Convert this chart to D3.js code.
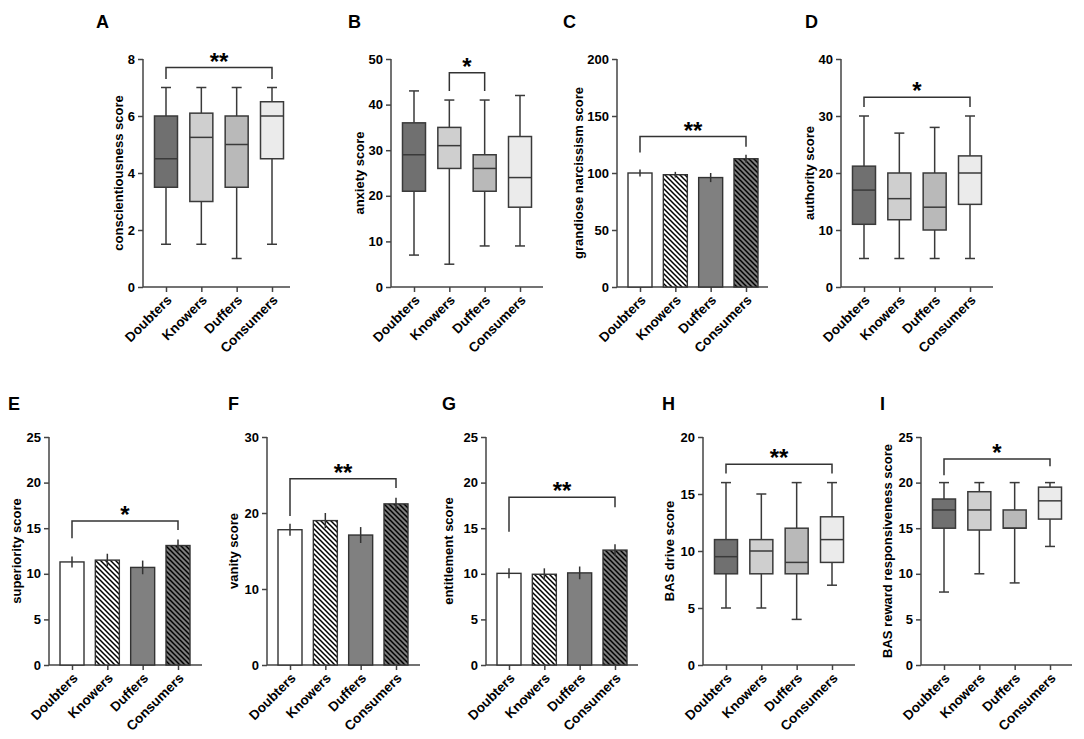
<!DOCTYPE html>
<html>
<head>
<meta charset="utf-8">
<script src="https://cdn.jsdelivr.net/npm/d3@7"></script>
<style>
  body { margin: 0; background: #fff; }
  text { font-family: "Liberation Sans", Arial, sans-serif; }
</style>
</head>
<body>
<svg id="chart" width="1084" height="739"></svg>
<script>
// groups on every x axis
const groups = ["Doubters", "Knowers", "Duffers", "Consumers"];

// box plots: [min, q1, median, q3, max] per group
const conscientiousness = [[1.5, 3.5, 4.5, 6, 7], [1.5, 3, 5.25, 6.1, 7], [1, 3.5, 5, 6, 7], [1.5, 4.5, 6, 6.5, 7]];
const anxiety = [[7, 21, 29, 36, 43], [5, 26, 31, 35, 41], [9, 21, 26, 29, 41], [9, 17.5, 24, 33, 42]];
const authority = [[5, 11, 17, 21.2, 30], [5, 11.8, 15.5, 20, 27], [5, 10, 14, 20, 28], [5, 14.5, 20, 23, 30]];
const basDrive = [[5, 8, 9.5, 11, 16], [5, 8, 10, 11, 15], [4, 8, 9, 12, 16], [7, 9, 11, 13, 16]];
const basReward = [[8, 15, 17, 18.2, 20], [10, 14.8, 17, 19, 20], [9, 15, 15, 17, 20], [13, 16, 18, 19.5, 20]];

// bar charts: mean and sem per group
const narcissismMean = [100, 98.5, 96, 112.5];
const narcissismSem = [3, 2.5, 4, 3.5];
const superiorityMean = [11.3, 11.5, 10.7, 13.1];
const superioritySem = [0.6, 0.7, 0.75, 0.65];
const vanityMean = [17.8, 19, 17.1, 21.2];
const vanitySem = [0.8, 1, 1.05, 0.8];
const entitlementMean = [10.05, 9.95, 10.1, 12.6];
const entitlementSem = [0.55, 0.65, 0.7, 0.65];

// y ticks
const ticksA = [0, 2, 4, 6, 8];
const ticksB = [0, 10, 20, 30, 40, 50];
const ticksC = [0, 50, 100, 150, 200];
const ticksD = [0, 10, 20, 30, 40];
const ticks25 = [0, 5, 10, 15, 20, 25];
const ticksF = [0, 10, 20, 30];
const ticksH = [0, 5, 10, 15, 20];

// significance brackets: [from, to, label, level, left drop, right drop]
const sigA = ["Doubters", "Consumers", "**", 7.7, 7.3, 7.3];
const sigB = ["Knowers", "Duffers", "*", 47, 43, 43];
const sigC = ["Doubters", "Consumers", "**", 132, 118, 123];
const sigD = ["Doubters", "Consumers", "*", 33.3, 31.6, 31.6];
const sigE = ["Doubters", "Consumers", "*", 15.8, 13.9, 14.8];
const sigF = ["Doubters", "Consumers", "**", 24.5, 19.6, 23.3];
const sigG = ["Doubters", "Consumers", "**", 18.4, 14.6, 17.3];
const sigH = ["Doubters", "Consumers", "**", 17.6, 16.8, 16.8];
const sigI = ["Doubters", "Consumers", "*", 22.6, 20.8, 21.8];

const boxFill = ["#707070", "#cfcfcf", "#b9b9b9", "#ebebeb"];
const barFill = ["#ffffff", "url(#hatchWhite)", "#808080", "url(#hatchGray)"];
const axisColor = "#444";

const svg = d3.select("#chart");

// hatch patterns
const defs = svg.append("defs");
function addHatch(id, bg) {
  const p = defs.append("pattern")
    .attr("id", id)
    .attr("patternUnits", "userSpaceOnUse")
    .attr("width", 5)
    .attr("height", 5);
  p.append("rect").attr("width", 5).attr("height", 5).attr("fill", bg);
  p.append("path")
    .attr("d", "M-1,-1L6,6M-1,4L1,6M4,-1L6,1")
    .attr("stroke", "#000")
    .attr("stroke-width", 1.5);
}
addHatch("hatchWhite", "#ffffff");
addHatch("hatchGray", "#7c7c7c");

function drawFrame(p) {
  const g = svg.append("g");
  const y = d3.scaleLinear().domain([0, p.max]).range([p.y0, p.y1]);
  const x = d3.scalePoint().domain(groups).range([p.x0 + 23, p.x0 + 23 + 106]);

  // panel letter
  g.append("text")
    .attr("x", p.lx).attr("y", p.ly)
    .style("font-size", "18px").style("font-weight", "bold")
    .text(p.letter);

  // y axis
  const yAxis = g.append("g")
    .attr("transform", `translate(${p.x0},0)`)
    .call(d3.axisLeft(y).tickValues(p.ticks).tickSize(5).tickPadding(3).tickFormat(d3.format("d")));
  yAxis.select(".domain").attr("stroke", axisColor).attr("stroke-width", 1.5).attr("d", `M0,${p.y0}V${p.y1}`);
  yAxis.selectAll(".tick line").attr("stroke", axisColor).attr("stroke-width", 1.5);
  yAxis.selectAll(".tick text")
    .attr("fill", "#000")
    .style("font-size", "13px").style("font-weight", "bold")
    .style("font-family", "Liberation Sans, Arial, sans-serif");

  // x axis
  const xAxis = g.append("g")
    .attr("transform", `translate(0,${p.y0})`)
    .call(d3.axisBottom(x).tickSize(5).tickSizeOuter(0));
  xAxis.select(".domain").attr("stroke", axisColor).attr("stroke-width", 1.5).attr("d", `M${p.x0},0H${p.x1}`);
  xAxis.selectAll(".tick line").attr("stroke", axisColor).attr("stroke-width", 1.5);
  xAxis.selectAll(".tick text")
    .attr("fill", "#000")
    .attr("text-anchor", "end")
    .attr("dy", null)
    .attr("y", 0)
    .attr("transform", "translate(6,14) rotate(-45)")
    .style("font-size", "13.5px").style("font-weight", "bold")
    .style("font-family", "Liberation Sans, Arial, sans-serif");

  // y axis title
  g.append("text")
    .attr("transform", `translate(${p.x0 - p.tOff + 4.5},${(p.y0 + p.y1) / 2}) rotate(-90)`)
    .attr("text-anchor", "middle")
    .style("font-size", "13px").style("font-weight", "bold")
    .text(p.title);

  // significance bracket
  const s = p.sig;
  const path = d3.path();
  path.moveTo(x(s[0]), y(s[4]));
  path.lineTo(x(s[0]), y(s[3]));
  path.lineTo(x(s[1]), y(s[3]));
  path.lineTo(x(s[1]), y(s[5]));
  g.append("path").attr("d", path.toString())
    .attr("fill", "none").attr("stroke", "#333").attr("stroke-width", 1.5);
  g.append("text")
    .attr("x", (x(s[0]) + x(s[1])) / 2).attr("y", y(s[3]) + 2)
    .attr("text-anchor", "middle")
    .style("font-size", "24px").style("font-weight", "bold")
    .text(s[2]);

  return { g, x, y };
}

function boxPanel(p) {
  const { g, x, y } = drawFrame(p);
  const w = 23, cap = 10;
  p.data.forEach((d, i) => {
    const cx = x(groups[i]);
    const bg = g.append("g").attr("stroke", "#3a3a3a").attr("stroke-width", 1.5);
    bg.append("line").attr("x1", cx).attr("x2", cx).attr("y1", y(d[0])).attr("y2", y(d[1]));
    bg.append("line").attr("x1", cx).attr("x2", cx).attr("y1", y(d[3])).attr("y2", y(d[4]));
    bg.append("line").attr("x1", cx - cap / 2).attr("x2", cx + cap / 2).attr("y1", y(d[0])).attr("y2", y(d[0]));
    bg.append("line").attr("x1", cx - cap / 2).attr("x2", cx + cap / 2).attr("y1", y(d[4])).attr("y2", y(d[4]));
    bg.append("rect")
      .attr("x", cx - w / 2).attr("width", w)
      .attr("y", y(d[3])).attr("height", y(d[1]) - y(d[3]))
      .attr("fill", boxFill[i]);
    bg.append("line").attr("x1", cx - w / 2).attr("x2", cx + w / 2).attr("y1", y(d[2])).attr("y2", y(d[2]));
  });
}

function barPanel(p) {
  const { g, x, y } = drawFrame(p);
  const w = 24;
  p.mean.forEach((m, i) => {
    const cx = x(groups[i]);
    g.append("rect")
      .attr("x", cx - w / 2).attr("width", w)
      .attr("y", y(m)).attr("height", y(0) - y(m))
      .attr("fill", barFill[i]).attr("stroke", "#333").attr("stroke-width", 1.4);
    g.append("line")
      .attr("x1", cx).attr("x2", cx)
      .attr("y1", y(m - p.sem[i])).attr("y2", y(m + p.sem[i]))
      .attr("stroke", "#333").attr("stroke-width", 1.5);
  });
}

const topRow = { y0: 287, y1: 59, ly: 28 };
const botRow = { y0: 665, y1: 437, ly: 410 };

boxPanel({ ...topRow, letter: "A", lx: 96, x0: 143, x1: 290, tOff: 25, max: 8, ticks: ticksA,
  title: "conscientiousness score", data: conscientiousness, sig: sigA });
boxPanel({ ...topRow, letter: "B", lx: 348, x0: 391, x1: 543, tOff: 32, max: 50, ticks: ticksB,
  title: "anxiety score", data: anxiety, sig: sigB });
barPanel({ ...topRow, letter: "C", lx: 563, x0: 617, x1: 768, tOff: 39, max: 200, ticks: ticksC,
  title: "grandiose narcissism score", mean: narcissismMean, sem: narcissismSem, sig: sigC });
boxPanel({ ...topRow, letter: "D", lx: 805, x0: 841, x1: 993, tOff: 32, max: 40, ticks: ticksD,
  title: "authority score", data: authority, sig: sigD });

barPanel({ ...botRow, letter: "E", lx: 8, x0: 49, x1: 202, tOff: 33, max: 25, ticks: ticks25,
  title: "superiority score", mean: superiorityMean, sem: superioritySem, sig: sigE });
barPanel({ ...botRow, letter: "F", lx: 228, x0: 267, x1: 420, tOff: 34, max: 30, ticks: ticksF,
  title: "vanity score", mean: vanityMean, sem: vanitySem, sig: sigF });
barPanel({ ...botRow, letter: "G", lx: 442, x0: 486, x1: 638, tOff: 38, max: 25, ticks: ticks25,
  title: "entitlement score", mean: entitlementMean, sem: entitlementSem, sig: sigG });
boxPanel({ ...botRow, letter: "H", lx: 662, x0: 703, x1: 855, tOff: 34, max: 20, ticks: ticksH,
  title: "BAS drive score", data: basDrive, sig: sigH });
boxPanel({ ...botRow, letter: "I", lx: 880, x0: 921, x1: 1072, tOff: 34, max: 25, ticks: ticks25,
  title: "BAS reward responsiveness score", data: basReward, sig: sigI });
</script>
</body>
</html>
